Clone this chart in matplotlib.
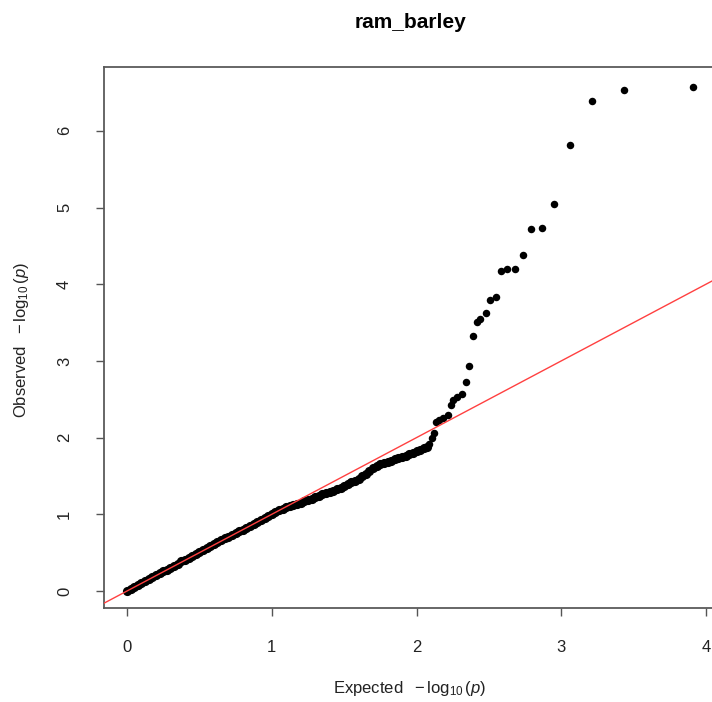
import matplotlib
matplotlib.use("Agg")
import matplotlib.pyplot as plt

plt.rcParams['font.family'] = ['Liberation Sans', 'DejaVu Sans']
plt.rcParams['mathtext.fontset'] = 'custom'
plt.rcParams['mathtext.rm'] = 'Liberation Sans'
plt.rcParams['mathtext.it'] = 'Liberation Sans:italic'
plt.rcParams['mathtext.bf'] = 'Liberation Sans:bold'

title = "ram_barley"
x_label = r"Expected $\ -\log_{10}(\mathit{p})$"
y_label = r"Observed $\ -\log_{10}(\mathit{p})$"
x_ticks = [0, 1, 2, 3, 4]
y_ticks = [0, 1, 2, 3, 4, 5, 6]

# bulk of the QQ curve (expected, observed)
body_expected = [
    0.000, 0.025, 0.050, 0.075, 0.100, 0.125, 0.150, 0.175, 0.200, 0.225,
    0.250, 0.275, 0.300, 0.325, 0.350, 0.375, 0.400, 0.425, 0.450, 0.475,
    0.500, 0.525, 0.550, 0.575, 0.600, 0.625, 0.650, 0.675, 0.700, 0.725,
    0.750, 0.775, 0.800, 0.825, 0.850, 0.875, 0.900, 0.925, 0.950, 0.975,
    1.000, 1.025, 1.050, 1.075, 1.100, 1.125, 1.150, 1.175, 1.200, 1.225,
    1.250, 1.275, 1.300, 1.325, 1.350, 1.375, 1.400, 1.425, 1.450, 1.475,
    1.500, 1.525, 1.550, 1.575, 1.600, 1.625, 1.650, 1.675, 1.700, 1.725,
    1.750, 1.775, 1.800, 1.825, 1.850, 1.875, 1.900, 1.925, 1.950, 1.975,
    2.000, 2.025, 2.050, 2.070,
]
body_observed = [
    0.005, 0.030, 0.055, 0.080, 0.105, 0.130, 0.155, 0.180, 0.205, 0.230,
    0.255, 0.280, 0.305, 0.330, 0.355, 0.385, 0.410, 0.435, 0.460, 0.485,
    0.510, 0.535, 0.560, 0.585, 0.610, 0.635, 0.660, 0.685, 0.710, 0.735,
    0.760, 0.780, 0.800, 0.825, 0.850, 0.875, 0.900, 0.925, 0.950, 0.975,
    1.000, 1.030, 1.050, 1.070, 1.090, 1.105, 1.120, 1.140, 1.150, 1.170,
    1.190, 1.205, 1.225, 1.245, 1.260, 1.275, 1.290, 1.305, 1.325, 1.345,
    1.370, 1.390, 1.415, 1.440, 1.465, 1.495, 1.530, 1.565, 1.600, 1.625,
    1.650, 1.670, 1.685, 1.700, 1.715, 1.730, 1.745, 1.760, 1.780, 1.800,
    1.820, 1.840, 1.860, 1.880,
]

# upper tail points (expected, observed)
tail_expected = [
    3.907, 3.431, 3.210, 3.063, 2.952, 2.867, 2.793, 2.734, 2.681, 2.627,
    2.584, 2.547, 2.508, 2.478, 2.441, 2.416, 2.390, 2.365, 2.340, 2.312,
    2.282, 2.254, 2.236, 2.216, 2.185, 2.155, 2.135, 2.123, 2.105, 2.085,
]
tail_observed = [
    6.567, 6.532, 6.392, 5.815, 5.042, 4.737, 4.724, 4.381, 4.198, 4.198,
    4.172, 3.833, 3.798, 3.628, 3.546, 3.507, 3.329, 2.937, 2.721, 2.572,
    2.525, 2.490, 2.425, 2.295, 2.252, 2.229, 2.200, 2.056, 1.991, 1.920,
]

W, H = 712, 702
fig = plt.figure(figsize=(W / 100, H / 100), dpi=100)
left_px, right_px, top_px, bottom_px = 104, 716, 67, 608
ax = fig.add_axes([left_px / W, 1 - bottom_px / H,
                   (right_px - left_px) / W, (bottom_px - top_px) / H])

ax.plot(body_expected, body_observed, 'o', color='black', ms=6.6,
        mec='black', mew=0, zorder=2, clip_on=False)
ax.plot(tail_expected, tail_observed, 'o', color='black', ms=5.4,
        mec='black', mew=0, zorder=2, clip_on=False)
ax.axline((0, 0), slope=1, color='#ff4040', lw=1.0, zorder=3)

ax.set_xlim(-0.159, 4.069)
ax.set_ylim(-0.2216, 6.832)

ax.set_xticks(x_ticks)
ax.set_yticks(y_ticks)
ax.set_xticklabels([str(t) for t in x_ticks])
ax.set_yticklabels([str(t) for t in y_ticks], rotation=90, va='center')
ax.tick_params(axis='both', length=6, width=1.0, color='#555555',
               labelsize=12, labelcolor='#222222')
ax.tick_params(axis='x', pad=17)
ax.tick_params(axis='y', pad=17)
for s in ax.spines.values():
    s.set_color('#5a5a5a')
    s.set_linewidth(1.3)

fig.text(410 / W, 1 - 23 / H, title, ha='center', va='center',
         fontsize=15, fontweight='bold')
fig.text(410 / W, 1 - 688 / H, x_label, ha='center', va='center',
         fontsize=12, color='#222222')
fig.text(22 / W, 1 - 340 / H, y_label, ha='center', va='center',
         fontsize=12, rotation=90, color='#222222')

fig.savefig("out.png", dpi=100)
